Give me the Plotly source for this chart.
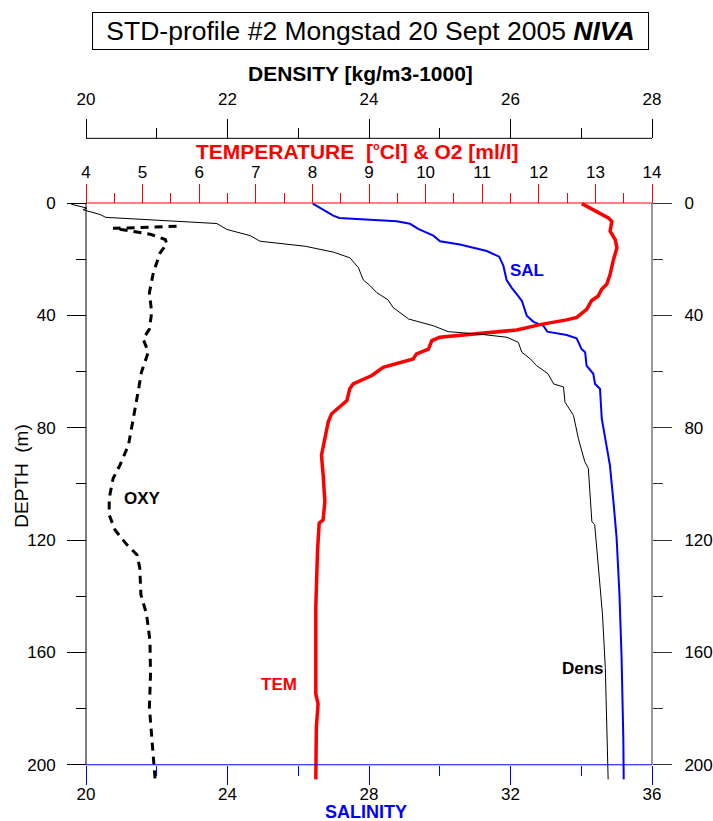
import plotly.graph_objects as go

# ---------------- data ----------------
depth_sal = [0.2, 2.4, 2.9, 4.5, 5.3, 6.5, 7.4, 9.2, 11.6, 13.6, 14.8, 17.1, 19.1, 22.4, 27.4,
             30.1, 32.5, 34.8, 40.1, 42.3, 43.7, 45.8, 47.0, 48.2, 52.0, 53.1, 57.9, 60.8,
             64.4, 66.1, 76.8, 87.4, 93.3, 106.3, 119.3, 139.4, 161.8, 191.3, 205.2]
sal = [26.41, 26.71, 26.76, 26.99, 27.16, 28.78, 29.16, 29.39, 29.82, 30.01, 30.57, 31.33,
       31.68, 31.80, 31.89, 32.03, 32.18, 32.32, 32.46, 32.65, 32.93, 33.04, 33.59, 33.87,
       34.01, 34.11, 34.15, 34.34, 34.39, 34.53, 34.58, 34.72, 34.81, 34.91, 35.00, 35.08,
       35.14, 35.19, 35.20]

depth_dens = [0.4, 1.8, 2.4, 4.1, 5.1, 7.3, 9.4, 11.6, 13.6, 15.4, 17.5, 19.5, 23.0, 27.4,
              29.3, 31.9, 34.5, 37.2, 41.3, 43.7, 45.8, 46.7, 47.8, 49.6, 53.1, 55.5, 57.9,
              60.8, 64.4, 65.5, 70.9, 75.6, 83.9, 92.1, 94.5, 113.4, 114.5, 137.0, 146.4,
              165.4, 186.6, 205.2]
dens = [19.79, 20.01, 19.96, 20.20, 20.28, 21.85, 21.99, 22.32, 22.46, 23.10, 23.50, 23.73,
        23.85, 23.92, 24.01, 24.11, 24.27, 24.34, 24.56, 24.91, 25.12, 25.57, 25.95, 26.11,
        26.16, 26.28, 26.37, 26.53, 26.61, 26.75, 26.77, 26.89, 26.96, 27.05, 27.10, 27.15,
        27.19, 27.27, 27.30, 27.34, 27.36, 27.38]

depth_tem = [0.2, 1.8, 5.3, 6.5, 10.0, 13.0, 15.9, 20.1, 25.4, 28.9, 30.7, 33.1, 34.8, 37.8,
             40.7, 41.6, 43.3, 45.2, 46.7, 47.8, 49.0, 52.0, 53.7, 55.5, 58.5, 61.4, 64.4,
             66.1, 70.3, 75.0, 77.9, 83.9, 89.8, 96.8, 106.3, 112.8, 114.0, 124.0, 144.1,
             174.8, 178.3, 186.6, 205.2]
tem = [12.76, 12.90, 13.23, 13.29, 13.26, 13.35, 13.38, 13.32, 13.26, 13.20, 13.11, 13.05,
       12.93, 12.85, 12.67, 12.49, 12.02, 11.61, 10.73, 10.25, 10.11, 10.05, 9.84, 9.78,
       9.25, 9.05, 8.72, 8.66, 8.61, 8.34, 8.28, 8.22, 8.16, 8.19, 8.22, 8.19, 8.12, 8.09,
       8.06, 8.06, 8.10, 8.07, 8.06]

depth_oxy = [8.3, 9.0, 10.0, 11.2, 13.0, 14.5, 17.7, 24.8, 31.9, 39.0, 44.9, 48.4, 53.1,
             60.2, 67.3, 76.8, 86.2, 93.3, 98.0, 105.1, 111.0, 116.3, 121.6, 125.2, 129.9,
             139.4, 146.4, 155.9, 167.7, 179.5, 189.0, 204.9]
oxy = [5.60, 4.48, 4.80, 5.15, 5.40, 5.43, 5.31, 5.19, 5.12, 5.16, 5.12, 5.01, 5.10, 4.98,
       4.92, 4.84, 4.75, 4.60, 4.48, 4.41, 4.41, 4.51, 4.72, 4.90, 4.95, 4.97, 5.07, 5.13,
       5.14, 5.12, 5.16, 5.22]

sal_ticks = [20, 24, 28, 32, 36]
sal_minor = [22, 26, 30, 34]
tem_ticks = [4, 5, 6, 7, 8, 9, 10, 11, 12, 13, 14]
tem_minor = [4.5, 5.5, 6.5, 7.5, 8.5, 9.5, 10.5, 11.5, 12.5, 13.5]
den_ticks = [20, 22, 24, 26, 28]
den_minor = [21, 23, 25, 27]
dep_ticks = [0, 40, 80, 120, 160, 200]
dep_minor = [20, 60, 100, 140, 180]

# ---------------- layout geometry (pixels) ----------------
W, H = 713, 821
XL, XR = 86.0, 652.0        # left / right frame
YT, YB = 200.0, 764.5       # depth 0 / depth 200
PX0, PX1 = 64.0, 662.0      # plotting domain (extended so curves may overshoot)
PY0, PY1 = 195.0, 785.0
YDEN = 135.0

def px(x):
    return x / W

def py(y):
    return 1 - y / H

def xrange_for(v0, v1):
    k = (v1 - v0) / (XR - XL)
    return [v0 + (PX0 - XL) * k, v0 + (PX1 - XL) * k]

def d_at(q):
    return (q - YT) * 200.0 / (YB - YT)

FONT = "Liberation Sans, Arial, sans-serif"
BLUE = "#0000ff"
RED = "#ff0000"

fig = go.Figure()
fig.add_trace(go.Scatter(x=dens, y=depth_dens, xaxis="x3", yaxis="y", mode="lines",
                         line=dict(color="black", width=1)))
fig.add_trace(go.Scatter(x=sal, y=depth_sal, xaxis="x", yaxis="y", mode="lines",
                         line=dict(color=BLUE, width=2)))
fig.add_trace(go.Scatter(x=tem, y=depth_tem, xaxis="x2", yaxis="y", mode="lines",
                         line=dict(color=RED, width=3.5)))
fig.add_trace(go.Scatter(x=oxy, y=depth_oxy, xaxis="x2", yaxis="y", mode="lines",
                         line=dict(color="black", width=3, dash="8px,6px")))
# invisible companion trace so that the right-hand depth axis is drawn
fig.add_trace(go.Scatter(x=sal, y=depth_sal, xaxis="x", yaxis="y2", mode="lines",
                         line=dict(color="rgba(0,0,0,0)", width=0), hoverinfo="skip"))

tickfont = dict(family=FONT, size=17, color="black")
common = dict(showgrid=False, zeroline=False, showline=False, ticks="outside",
              ticklen=19, tickwidth=1, tickfont=tickfont, tickmode="array")

fig.update_layout(
    width=W, height=H, margin=dict(l=0, r=0, t=0, b=0),
    paper_bgcolor="white", plot_bgcolor="white", showlegend=False,
    xaxis=dict(domain=[px(PX0), px(PX1)], range=xrange_for(20, 36), anchor="free",
               position=py(YB), side="bottom", tickvals=sal_ticks, tickcolor=BLUE,
               ticklabelstandoff=-5,
               minor=dict(tickmode="array", tickvals=sal_minor, ticks="outside",
                          ticklen=10, tickcolor=BLUE), **common),
    xaxis2=dict(overlaying="x", range=xrange_for(4, 14), anchor="free",
                position=py(YT), side="top", tickvals=tem_ticks, tickcolor=RED,
                ticklabelstandoff=-1,
                minor=dict(tickmode="array", tickvals=tem_minor, ticks="outside",
                           ticklen=10, tickcolor=RED), **common),
    xaxis3=dict(overlaying="x", range=xrange_for(20, 28), anchor="free",
                position=py(YDEN), side="top", tickvals=den_ticks, tickcolor="black",
                ticklabelstandoff=8,
                minor=dict(tickmode="array", tickvals=den_minor, ticks="outside",
                           ticklen=10, tickcolor="black"), **common),
    yaxis=dict(domain=[py(PY1), py(PY0)], range=[d_at(PY1), d_at(PY0)], anchor="free",
               position=px(XL), side="left", tickvals=dep_ticks, tickcolor="black",
               ticklabelstandoff=8,
               minor=dict(tickmode="array", tickvals=dep_minor, ticks="outside",
                          ticklen=10, tickcolor="black"), **common),
    yaxis2=dict(overlaying="y", range=[d_at(PY1), d_at(PY0)], anchor="free",
                position=px(XR), side="right", tickvals=dep_ticks, tickcolor="#333333",
                ticklabelstandoff=9,
                minor=dict(tickmode="array", tickvals=dep_minor, ticks="outside",
                           ticklen=10, tickcolor="#333333"), **common),
)

# frame / axis lines (drawn only over the nominal axis extents)
def hline(y, color):
    fig.add_shape(type="line", xref="paper", yref="paper", x0=px(XL), x1=px(XR),
                  y0=py(y), y1=py(y), line=dict(color=color, width=1))

def vline(x, color):
    fig.add_shape(type="line", xref="paper", yref="paper", x0=px(x), x1=px(x),
                  y0=py(YT), y1=py(YB), line=dict(color=color, width=1))

hline(YDEN, "black")
hline(YT, RED)
hline(YB, BLUE)
vline(XL, "black")
vline(XR, "#333333")

def label(text, x, y, size, color="black", angle=0):
    fig.add_annotation(xref="paper", yref="paper", x=px(x), y=py(y), text=text,
                       showarrow=False, xanchor="center", yanchor="middle", textangle=angle,
                       font=dict(family=FONT, size=size, color=color))

# title box
fig.add_annotation(xref="paper", yref="paper", x=px(370.5), y=py(27),
                   text="STD-profile #2 Mongstad 20 Sept 2005 <b><i>NIVA</i></b>",
                   showarrow=False, xanchor="center", yanchor="middle",
                   width=553, height=34, borderpad=1, bordercolor="black", borderwidth=1,
                   bgcolor="white", font=dict(family=FONT, size=26.5, color="black"))

label("<b>DENSITY [kg/m3-1000]</b>", 360, 70, 21)
label("<b>TEMPERATURE\u00a0\u00a0[<sup><span style='font-size:11px'>o</span></sup>Cl] & O2 [ml/l]</b>",
      357, 148, 21, RED)
label("<b>SALINITY</b>", 366, 812, 18, BLUE)
label("DEPTH\u00a0\u00a0(m)", 22, 475, 19, angle=-90)

label("<b>SAL</b>", 527, 268, 17, BLUE)
label("<b>OXY</b>", 142, 497, 17)
label("<b>TEM</b>", 279, 684, 17, RED)
label("<b>Dens</b>", 583, 668, 17)

fig.write_html("out.html", config={"displayModeBar": False},
               post_script="document.body.style.margin='0';document.body.style.padding='0';"
                           "document.body.style.overflow='hidden';")
